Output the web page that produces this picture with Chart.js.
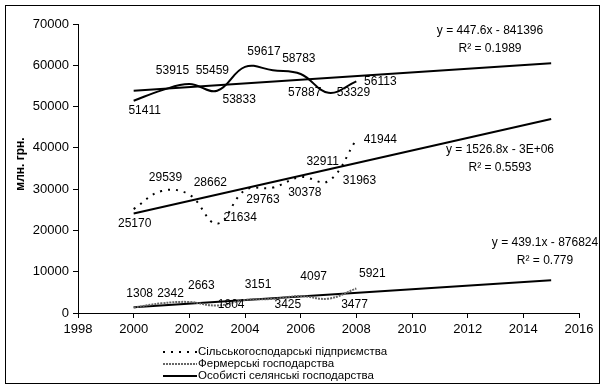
<!DOCTYPE html>
<html>
<head>
<meta charset="utf-8">
<script src="https://cdn.jsdelivr.net/npm/chart.js@4.4.0/dist/chart.umd.min.js"></script>
<style>
  body { margin: 0; background: #fff; }
  canvas { display: block; }
</style>
</head>
<body>
<canvas id="FarmChart" width="607" height="387"></canvas>
<script>
const years = [2000, 2001, 2002, 2003, 2004, 2005, 2006, 2007, 2008];
const silgospData = [25170, 29539, 28662, 21634, 29763, 30378, 32911, 31963, 41944];
const fermerData = [1308, 2342, 2663, 1804, 3151, 3425, 4097, 3477, 5921];
const osobystiData = [51411, 53915, 55459, 53833, 59617, 58783, 57887, 53329, 56113];

const trendYears = [2000, 2015];
const trendSilgosp = [24111, 47013];
const trendFermer = [1376, 7962];
const trendOsobysti = [53804, 60518];

const seriesLabels = [
    'Сільськогосподарські підприємства',
    'Фермерські господарства',
    'Особисті селянські господарства'
];
const xTicks = [1998, 2000, 2002, 2004, 2006, 2008, 2010, 2012, 2014, 2016];
const yTicks = [0, 10000, 20000, 30000, 40000, 50000, 60000, 70000];

// where each value label sits relative to its point (px)
const silgospLabelPos = [[1, 15], [4, -13], [21, -12], [23, -6], [18, 10], [32, 5], [22, -15], [31, 0], [24, 0]];
const fermerLabelPos = [[6, -14], [9, -10], [12, -16], [14, -1], [13, -15], [15, 6], [13, -19], [26, 6], [16, -15]];
const osobystiLabelPos = [[11, 10], [11, -20], [23, -13], [22, 9], [19, -15], [26, -12], [4, 19], [25, 0], [24, 0]];

const trendTexts = [
    {eq: 'y = 1526.8x - 3E+06', r2: 'R² = 0.5593', x: 500, y: 150},
    {eq: 'y = 439.1x - 876824', r2: 'R² = 0.779', x: 545, y: 243},
    {eq: 'y = 447.6x - 841396', r2: 'R² = 0.1989', x: 490, y: 31}
];

const toPoints = (xs, ys) => xs.map((x, i) => ({x: x, y: ys[i]}));

const FONT = '"Liberation Sans", Arial, sans-serif';

const lineStyles = [
    {color: '#000', width: 2, dash: [2, 6]},
    {color: '#666', width: 2, dash: [2, 1]},
    {color: '#000', width: 2, dash: []}
];

const labelsPlugin = {
    id: 'valueLabels',
    afterDatasetsDraw(chart) {
        const ctx = chart.ctx;
        const pos = [silgospLabelPos, fermerLabelPos, osobystiLabelPos];
        ctx.save();
        ctx.fillStyle = '#000';
        ctx.font = '12px ' + FONT;
        ctx.textAlign = 'center';
        ctx.textBaseline = 'middle';
        for (let d = 0; d < 3; d++) {
            const meta = chart.getDatasetMeta(d);
            const vals = chart.data.datasets[d].data;
            meta.data.forEach((pt, i) => {
                ctx.fillText(String(vals[i].y), pt.x + pos[d][i][0], pt.y + pos[d][i][1]);
            });
        }
        trendTexts.forEach(t => {
            ctx.fillText(t.eq, t.x, t.y);
            ctx.fillText(t.r2, t.x, t.y + 18);
        });

        // y axis title
        ctx.save();
        ctx.translate(21, 164);
        ctx.rotate(-Math.PI / 2);
        ctx.font = 'bold 12px ' + FONT;
        ctx.fillText('млн. грн.', 0, 0);
        ctx.restore();

        // legend
        ctx.textAlign = 'left';
        ctx.font = '11.5px ' + FONT;
        seriesLabels.forEach((lab, i) => {
            const y = 352 + i * 12;
            ctx.save();
            ctx.strokeStyle = lineStyles[i].color;
            ctx.lineWidth = lineStyles[i].width;
            ctx.setLineDash(lineStyles[i].dash);
            ctx.beginPath();
            ctx.moveTo(163, y);
            ctx.lineTo(197, y);
            ctx.stroke();
            ctx.restore();
            ctx.fillText(lab, 198, y);
        });

        // outer frame
        ctx.strokeStyle = '#000';
        ctx.lineWidth = 1;
        ctx.strokeRect(5.5, 5.5, 594, 378);
        ctx.restore();
    }
};

const ctxFarm = document.getElementById('FarmChart');
const dataFarm = {
    datasets: [
        {
            label: seriesLabels[0],
            data: toPoints(years, silgospData),
            borderColor: lineStyles[0].color,
            borderWidth: lineStyles[0].width,
            borderDash: lineStyles[0].dash,
            tension: 0.4
        },
        {
            label: seriesLabels[1],
            data: toPoints(years, fermerData),
            borderColor: lineStyles[1].color,
            borderWidth: lineStyles[1].width,
            borderDash: lineStyles[1].dash,
            tension: 0.4
        },
        {
            label: seriesLabels[2],
            data: toPoints(years, osobystiData),
            borderColor: lineStyles[2].color,
            borderWidth: lineStyles[2].width,
            tension: 0.4
        },
        {
            label: 'trend1',
            data: toPoints(trendYears, trendSilgosp),
            borderColor: '#000',
            borderWidth: 2
        },
        {
            label: 'trend2',
            data: toPoints(trendYears, trendFermer),
            borderColor: '#000',
            borderWidth: 2
        },
        {
            label: 'trend3',
            data: toPoints(trendYears, trendOsobysti),
            borderColor: '#000',
            borderWidth: 2
        }
    ]
};
const configFarm = {
    type: 'line',
    data: dataFarm,
    options: {
        responsive: false,
        animation: false,
        devicePixelRatio: 1,
        layout: {padding: {left: 0, top: 24, right: 28, bottom: 44}},
        elements: {point: {radius: 0}},
        plugins: {legend: {display: false}, tooltip: {enabled: false}},
        scales: {
            x: {
                type: 'linear',
                min: xTicks[0],
                max: xTicks[xTicks.length - 1],
                afterBuildTicks: s => { s.ticks = xTicks.map(v => ({value: v})); },
                afterFit: s => { s.height = 30; },
                grid: {drawOnChartArea: false, drawTicks: true, tickLength: 5, color: '#000'},
                border: {color: '#000', width: 1},
                ticks: {color: '#000', font: {family: FONT, size: 13}, padding: 4, maxRotation: 0, callback: v => String(v)}
            },
            y: {
                min: yTicks[0],
                max: yTicks[yTicks.length - 1],
                afterBuildTicks: s => { s.ticks = yTicks.map(v => ({value: v})); },
                afterFit: s => { s.width = 78; },
                grid: {drawOnChartArea: false, drawTicks: true, tickLength: 5, color: '#000'},
                border: {color: '#000', width: 1},
                ticks: {color: '#000', font: {family: FONT, size: 13}, padding: 4, callback: v => String(v)}
            }
        }
    },
    plugins: [labelsPlugin]
};
new Chart(ctxFarm, configFarm);
</script>
</body>
</html>
